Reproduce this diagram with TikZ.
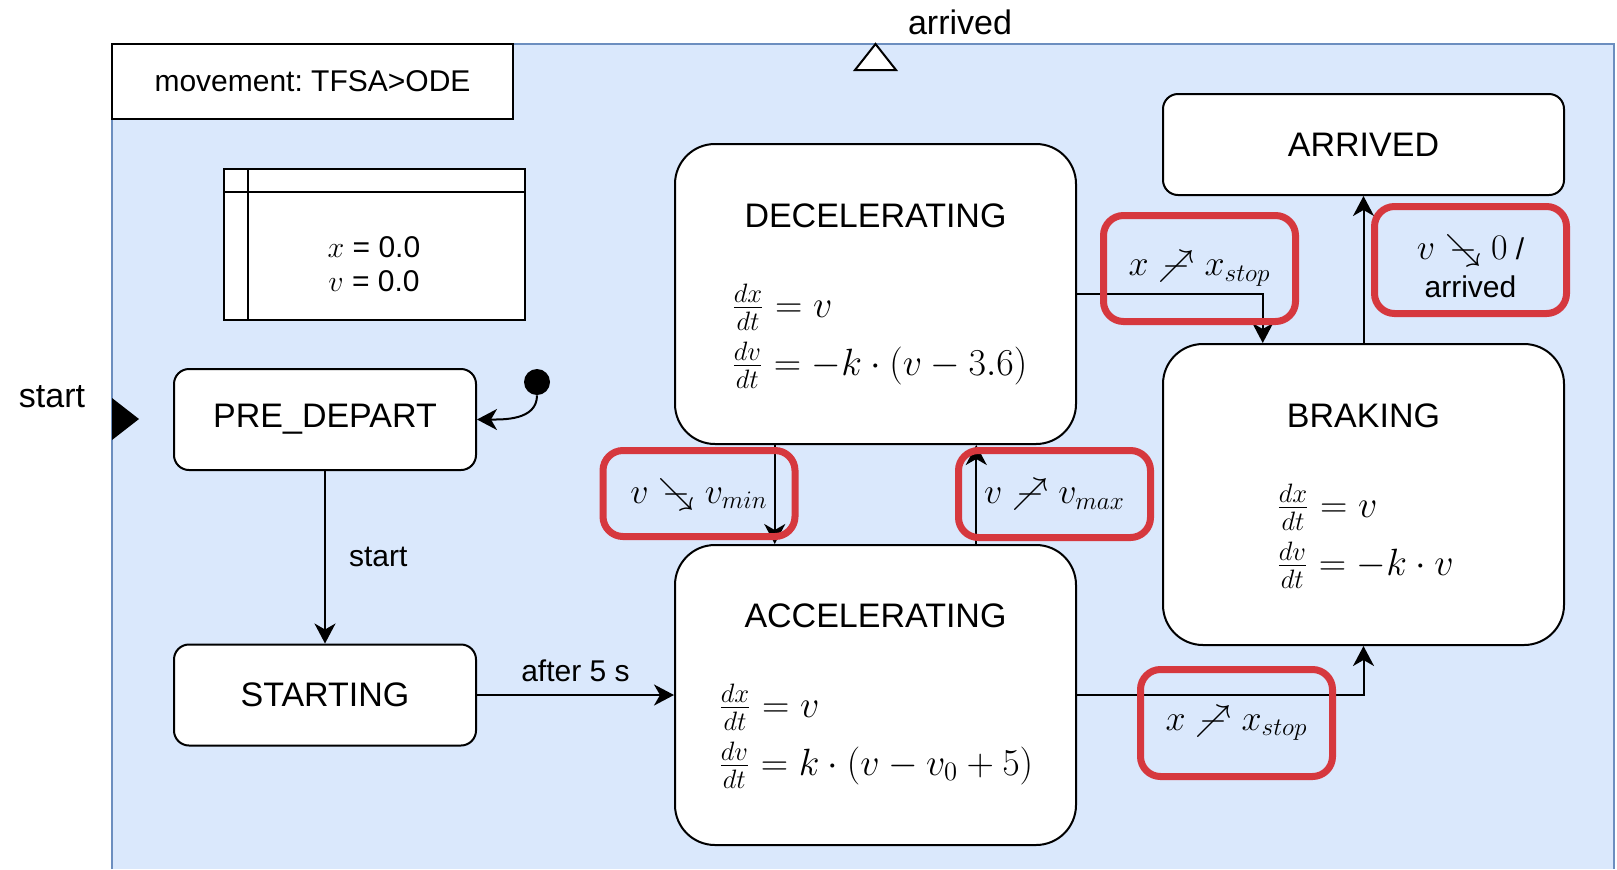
\documentclass[tikz,border=0pt]{standalone}
\usepackage{fix-cm}
\usepackage[no-math]{fontspec}
\setmainfont{Liberation Sans}
\usepackage{tikz}
\usetikzlibrary{calc,arrows.meta,positioning}

\definecolor{pkgfill}{HTML}{DAE8FC}
\definecolor{pkgline}{HTML}{6C8EBF}
\definecolor{guardred}{RGB}{214,56,62}

% threshold crossings (upwards / downwards)
\newcommand{\crossup}{\mathrel{\ooalign{$\nearrow$\cr\hidewidth$-$\hidewidth\cr}}}
\newcommand{\crossdown}{\mathrel{\ooalign{$\searrow$\cr\hidewidth$-$\hidewidth\cr}}}

\tikzset{
  smallstate/.style={draw, line width=1pt, fill=white, rounded corners=7.5pt,
    minimum width=151pt, minimum height=50.5pt, font=\fontsize{17}{20}\selectfont},
  bigstate/.style={draw, line width=1pt, fill=white, rounded corners=20pt,
    minimum width=200.5pt, minimum height=150pt},
  statetitle/.style={font=\fontsize{17}{20}\selectfont, inner sep=0pt},
  odes/.style={font=\fontsize{19}{29}\selectfont, align=left, inner sep=0pt, anchor=west},
  guard/.style={draw=guardred, line width=3.5pt, rounded corners=10pt,
    minimum width=96pt, align=center, font=\fontsize{18}{20}\selectfont},
  trans/.style={line width=1pt, -{Stealth[length=10pt,width=10.5pt,inset=3pt]}},
  lbl/.style={font=\fontsize{15}{18}\selectfont, inner sep=2pt},
}

\begin{document}
\begin{tikzpicture}[x=0.5pt,y=-0.5pt]
  \useasboundingbox (0,0) rectangle (1617,869);
  % package region
  \fill[pkgfill] (112,44) rectangle (1614,869);
  \draw[pkgline,line width=1pt] (112,869) -- (112,44) -- (1614,44) -- (1614,869);
  \node[draw,fill=white,line width=1pt,minimum width=200.5pt,minimum height=37.5pt,
        font=\fontsize{15}{18}\selectfont] (pkgname) at (312.5,81.5) {movement:\ TFSA>ODE};

  % variables
  \node[draw,fill=white,line width=1pt,minimum width=150.5pt,minimum height=75.5pt] (vars) at (374.5,244.5) {};
  \draw[line width=1pt] ($(vars.north west)+(25,0)$) -- ($(vars.south west)+(25,0)$);
  \draw[line width=1pt] ($(vars.north west)+(0,24)$) -- ($(vars.north east)+(0,24)$);
  \node[font=\fontsize{15}{17}\selectfont,align=center] (varvals) at (374,264) {$x$ = 0.0\\$v$ = 0.0};

  % entry and exit points
  \node[lbl,font=\fontsize{17}{20}\selectfont] (entrylbl) at (52,397) {start};
  \fill (112,398) -- (139,419) -- (112,440) -- cycle;
  \node[lbl,font=\fontsize{17}{20}\selectfont] (exitlbl) at (960,22) {arrived};
  \draw[line width=1pt,fill=white] (855,70) -- (875.5,44) -- (896,70) -- cycle;

  % states
  \node[smallstate] (pre) at (325,419.5) {PRE\_DEPART};
  \node[smallstate] (starting) at (325,695) {STARTING};
  \node[bigstate] (dec) at (875.5,294) {};
  \node[bigstate] (acc) at (875.5,695) {};
  \node[smallstate,minimum width=200.5pt] (arr) at (1363.5,144.5) {ARRIVED};
  \node[bigstate,minimum height=150.5pt] (brak) at (1363.5,494.5) {};

  \node[statetitle] (dectitle) at ($(dec.north)+(0,73)$) {DECELERATING};
  \node[statetitle] (acctitle) at ($(acc.north)+(0,72)$) {ACCELERATING};
  \node[statetitle] (braktitle) at ($(brak.north)+(0,73)$) {BRAKING};

  \node[odes] (decode) at (731,336) {$\frac{dx}{dt} = v$\\$\frac{dv}{dt} = -k\cdot(v-3.6)$};
  \node[odes] (accode) at (718,736) {$\frac{dx}{dt} = v$\\$\frac{dv}{dt} = k\cdot(v-v_0+5)$};
  \node[odes] (brakode) at (1276,536) {$\frac{dx}{dt} = v$\\$\frac{dv}{dt} = -k\cdot v$};

  \node[circle,fill=black,inner sep=0pt,minimum size=13pt] (init) at (537,382) {};

  % transitions
  \draw[trans] (init.south) to[out=-90,in=0] (pre.east);
  \draw[trans] (pre) -- node[lbl,right=9.5pt] (lblstart) {start} (starting);
  \draw[trans] (starting) -- node[lbl,above=4pt] (lblafter) {after 5 s} (acc);
  \draw[trans] ($(dec.south)!0.5!(dec.south west)$) -- ($(acc.north)!0.5!(acc.north west)$);
  \draw[trans] ($(acc.north)!0.5!(acc.north east)$) -- ($(dec.south)!0.5!(dec.south east)$);
  \draw[trans] (dec.east) -| ($(brak.north)!0.5!(brak.north west)$);
  \draw[trans] (acc.east) -| (brak.south);
  \draw[trans] (brak) -- (arr);

  % guards
  \node[guard,minimum height=43pt] (gmin) at (699,493.5) {$v \crossdown v_{min}$};
  \node[guard,minimum height=43.5pt] (gmax) at (1054.5,494) {$v \crossup v_{max}$};
  \node[guard,minimum height=53pt] (gstoptop) at (1199.5,268.5) {$x \crossup x_{stop}$};
  \node[guard,minimum height=53.5pt,font=\fontsize{15}{19}\selectfont] (gzero) at (1470.5,260)
    {\rule{0pt}{19pt}{\fontsize{18}{19}\selectfont$v \crossdown 0$} /\\arrived};
  \node[guard,minimum height=53.5pt] (gstopbot) at (1236.5,723) {$x \crossup x_{stop}$};
\end{tikzpicture}
\end{document}
